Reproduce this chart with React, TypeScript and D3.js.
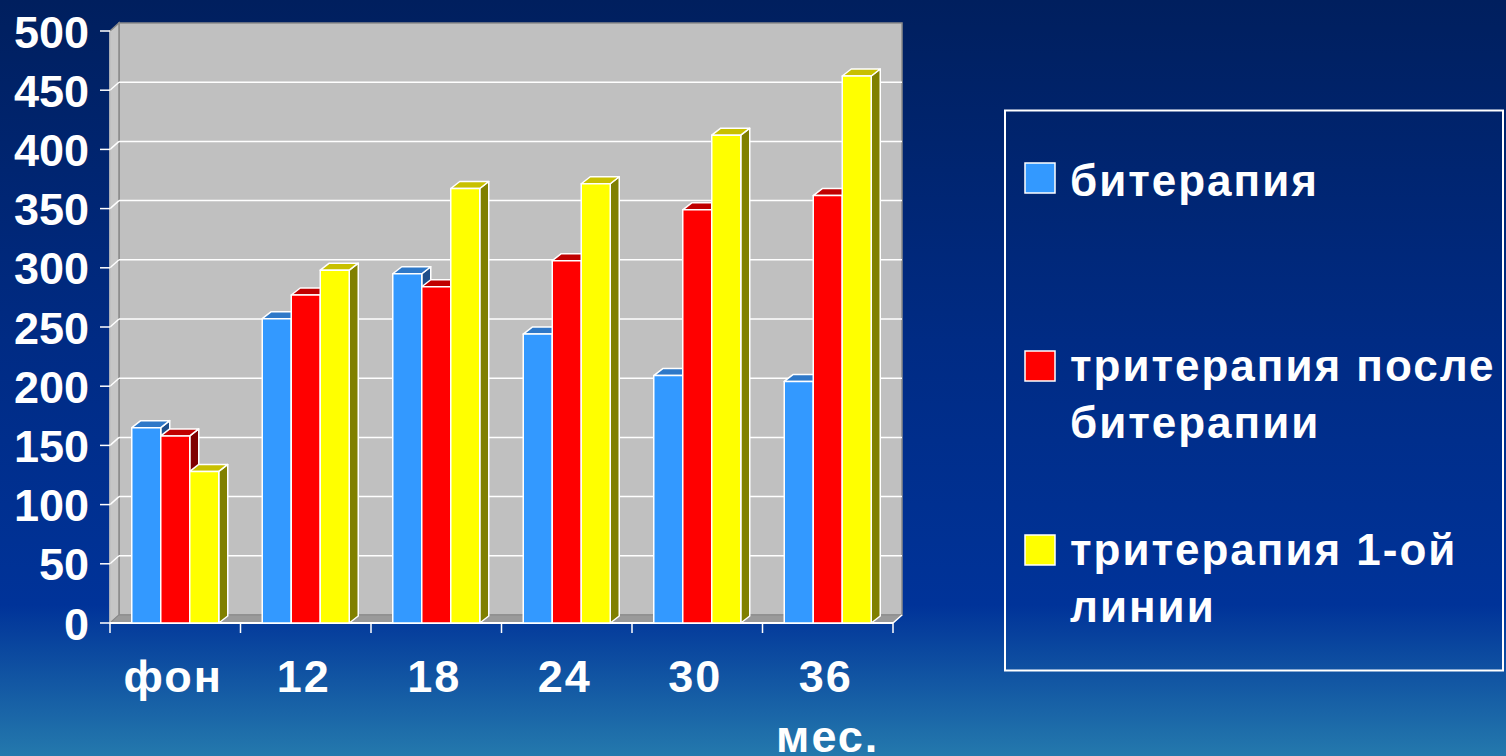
import React from "react";
import * as d3 from "d3";

const categories = ["фон", "12", "18", "24", "30", "36"];
const seriesNames = ["битерапия", "тритерапия после битерапии", "тритерапия 1-ой линии"];
const biterapia = [165, 257, 295, 244, 209, 204];
const triAfterBi = [158, 277, 284, 306, 349, 361];
const triFirstLine = [128, 298, 367, 371, 412, 462];
const yTicks = [0, 50, 100, 150, 200, 250, 300, 350, 400, 450, 500];
const legendLines = [["битерапия"], ["тритерапия после", "битерапии"], ["тритерапия 1-ой", "линии"]];
const xUnit = "мес.";

const seriesValues = [biterapia, triAfterBi, triFirstLine];
const frontColors = ["#3399ff", "#ff0000", "#ffff00"];
const topColors = ["#2e78c8", "#c00000", "#c8c000"];
const sideColors = ["#1f4f8a", "#800000", "#808000"];

const W = 1506;
const H = 756;
const X0 = 110;
const X1 = 893;
const Y0 = 623;
const Y1 = 31;
const DX = 9;
const DY = 8;
const BDX = 9;
const BDY = 7;
const FONT = "'Liberation Sans', Arial, sans-serif";

export default function App() {
  const x = d3.scaleBand<string>().domain(categories).range([X0, X1]).paddingInner(0).paddingOuter(0);
  const xs = d3.scaleBand<string>().domain(seriesNames).range([0, x.bandwidth()]).paddingInner(0).paddingOuter(0.75);
  const y = d3.scaleLinear().domain([0, 500]).range([Y0, Y1]);

  const pts = (a: number[][]) => a.map((p) => p.join(",")).join(" ");

  const bars: React.ReactNode[] = [];
  categories.forEach((c, ci) => {
    seriesNames.forEach((s, si) => {
      const v = seriesValues[si][ci];
      const bx0 = (x(c) as number) + (xs(s) as number);
      const bx1 = bx0 + xs.bandwidth();
      const yt = y(v);
      bars.push(
        <g key={`${ci}-${si}`} stroke="#ffffff" strokeWidth={1.5} strokeLinejoin="round">
          <polygon points={pts([[bx1, yt], [bx1 + BDX, yt - BDY], [bx1 + BDX, Y0 - BDY], [bx1, Y0]])} fill={sideColors[si]} />
          <polygon points={pts([[bx0, yt], [bx1, yt], [bx1 + BDX, yt - BDY], [bx0 + DX, yt - BDY]])} fill={topColors[si]} />
          <rect x={bx0} y={yt} width={bx1 - bx0} height={Y0 - yt} fill={frontColors[si]} />
        </g>
      );
    });
  });

  const xBounds = [...categories.map((c) => x(c) as number), X1];

  return (
    <svg width={W} height={H} style={{ position: "fixed", left: 0, top: 0, display: "block" }}>
      <defs>
        <linearGradient id="bg" x1="0" y1="0" x2="0" y2="1">
          <stop offset="0" stopColor="#001f5e" />
          <stop offset="0.45" stopColor="#002b84" />
          <stop offset="0.8" stopColor="#003399" />
          <stop offset="1" stopColor="#2479ad" />
        </linearGradient>
      </defs>
      <rect x={0} y={0} width={W} height={H} fill="url(#bg)" />

      {/* back wall */}
      <rect x={X0 + DX} y={Y1 - DY} width={X1 - X0} height={Y0 - Y1} fill="#c0c0c0" stroke="#8a8a8a" strokeWidth={1.5} />
      {/* left wall */}
      <polygon points={pts([[X0, Y0], [X0, Y1], [X0 + DX, Y1 - DY], [X0 + DX, Y0 - DY]])} fill="#c6c6c6" stroke="#8a8a8a" strokeWidth={1.5} />
      {/* floor */}
      <polygon points={pts([[X0, Y0], [X1, Y0], [X1 + DX, Y0 - DY], [X0 + DX, Y0 - DY]])} fill="#9a9a9a" stroke="#8a8a8a" strokeWidth={1} />

      {/* gridlines */}
      {yTicks.filter((t) => t > 0 && t < 500).map((t) => (
        <g key={t} stroke="#ffffff" strokeWidth={1.5}>
          <line x1={X0 + DX} x2={X1 + DX} y1={y(t) - DY} y2={y(t) - DY} />
          <line x1={X0} x2={X0 + DX} y1={y(t)} y2={y(t) - DY} />
        </g>
      ))}

      {/* front axis lines */}
      <line x1={X0} x2={X0} y1={Y1} y2={Y0} stroke="#e8e8e8" strokeWidth={1} />
      <line x1={X0} x2={X1} y1={Y0} y2={Y0} stroke="#ffffff" strokeWidth={2} />
      <line x1={X1} x2={X1 + DX} y1={Y0} y2={Y0 - DY} stroke="#ffffff" strokeWidth={1.5} />

      {bars}

      {/* y ticks */}
      {yTicks.map((t) => (
        <g key={t}>
          <line x1={X0 - 10} x2={X0} y1={y(t)} y2={y(t)} stroke="#ffffff" strokeWidth={1.5} />
          <text x={89} y={y(t) + 16.5} textAnchor="end" fill="#ffffff" fontFamily={FONT} fontWeight="bold" fontSize={45}>
            {t}
          </text>
        </g>
      ))}

      {/* x ticks */}
      {xBounds.map((b, i) => (
        <line key={i} x1={b} x2={b} y1={Y0} y2={Y0 + 10} stroke="#ffffff" strokeWidth={1.5} />
      ))}
      {categories.map((c) => (
        <text key={c} x={(x(c) as number) + x.bandwidth() / 2 - 2} y={692} textAnchor="middle" fill="#ffffff" fontFamily={FONT} fontWeight="bold" fontSize={45} letterSpacing={2}>
          {c}
        </text>
      ))}
      <text x={(x("36") as number) + x.bandwidth() / 2} y={752} textAnchor="middle" fill="#ffffff" fontFamily={FONT} fontWeight="bold" fontSize={45} letterSpacing={2}>
        {xUnit}
      </text>

      {/* legend */}
      <rect x={1005} y={110.5} width={498} height={560} fill="none" stroke="#ffffff" strokeWidth={2} />
      {legendLines.map((lines, i) => {
        const swY = [163, 351, 535][i];
        const baseY = [196, 381, 565][i];
        return (
          <g key={i}>
            <rect x={1025} y={swY} width={30} height={30} fill={frontColors[i]} stroke="#ffffff" strokeWidth={1.5} />
            {lines.map((ln, li) => (
              <text key={li} x={1070} y={baseY + li * 57} fill="#ffffff" fontFamily={FONT} fontWeight="bold" fontSize={44} letterSpacing={2}>
                {ln}
              </text>
            ))}
          </g>
        );
      })}
    </svg>
  );
}
